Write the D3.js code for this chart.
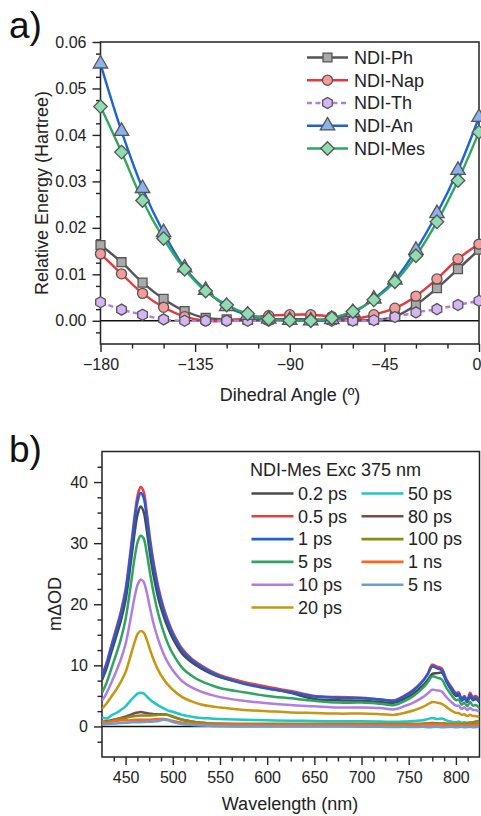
<!DOCTYPE html>
<html>
<head>
<meta charset="utf-8">
<script src="https://cdn.jsdelivr.net/npm/d3@7"></script>
<style>
  html, body { margin: 0; padding: 0; background: #fff; }
  svg { display: block; font-family: "Liberation Sans", Arial, Helvetica, sans-serif; }
</style>
</head>
<body>
<svg id="fig" width="481" height="816"></svg>
<script>
// ---------- Panel a: torsional scan ----------
const angles = [-180, -170, -160, -150, -140, -130, -120, -110, -100, -90, -80, -70, -60, -50, -40, -30, -20, -10, 0];
const ndiPh  = [0.0163, 0.0126, 0.0082, 0.0047, 0.0021, 0.0006, 0.0003, 0.0002, 0.0003, 0.0004, 0.0003, 0.0002, 0.0001, 0.0002, 0.0009, 0.0034, 0.0070, 0.0111, 0.0153];
const ndiNap = [0.0144, 0.0101, 0.0059, 0.0029, 0.0009, 0.0000, 0.0000, 0.0006, 0.0011, 0.0013, 0.0013, 0.0009, 0.0004, 0.0013, 0.0027, 0.0053, 0.0090, 0.0133, 0.0165];
const ndiTh  = [0.0040, 0.0024, 0.0013, 0.0003, 0.0000, 0.0000, 0.0000, 0.0000, 0.0000, 0.0000, 0.0000, 0.0000, 0.0000, 0.0001, 0.0008, 0.0018, 0.0025, 0.0034, 0.0043];
const ndiAn  = [0.0553, 0.0408, 0.0285, 0.0190, 0.0114, 0.0066, 0.0031, 0.0012, 0.0004, 0.0001, 0.0000, 0.0003, 0.0018, 0.0047, 0.0088, 0.0152, 0.0231, 0.0324, 0.0438];
const ndiMes = [0.0461, 0.0363, 0.0259, 0.0177, 0.0111, 0.0064, 0.0034, 0.0015, 0.0004, 0.0001, 0.0000, 0.0006, 0.0020, 0.0045, 0.0084, 0.0140, 0.0213, 0.0302, 0.0406];
const seriesNamesA = ["NDI-Ph", "NDI-Nap", "NDI-Th", "NDI-An", "NDI-Mes"];
const angleTicks = [-180, -135, -90, -45, 0];
const energyTicks = [0.00, 0.01, 0.02, 0.03, 0.04, 0.05, 0.06];

// ---------- Panel b: transient absorption of NDI-Mes ----------
const wavelengths = [425, 430, 435, 440, 445, 450, 455, 460, 463, 466, 469, 472, 476, 480, 485, 490, 495, 500, 510, 520, 530, 540, 550, 575, 600, 625, 650, 675, 700, 720, 735, 745, 755, 765, 770, 775, 780, 785, 790, 795, 800, 803, 806, 809, 812, 815, 818, 821, 825];
const t02ps  = [7.6, 9.6, 12.2, 14.7, 17.3, 20.7, 26.2, 32.2, 34.9, 36.0, 35.2, 32.6, 28.1, 24.4, 20.8, 18.2, 16.1, 14.4, 11.9, 10.5, 9.5, 8.7, 8.1, 7.1, 6.3, 5.5, 4.5, 4.3, 4.2, 4.0, 3.9, 4.5, 5.4, 6.7, 7.6, 8.6, 8.7, 8.8, 7.3, 6.0, 5.0, 5.1, 4.2, 4.6, 4.0, 4.9, 4.3, 4.5, 3.9];
const t05ps  = [8.4, 10.5, 13.3, 16.0, 18.8, 22.5, 28.5, 35.0, 38.0, 39.2, 38.5, 35.6, 30.6, 26.6, 22.6, 19.6, 17.3, 15.4, 12.7, 11.1, 10.0, 9.1, 8.4, 7.3, 6.5, 5.8, 5.0, 4.8, 4.7, 4.4, 4.3, 5.0, 6.0, 7.5, 8.6, 10.1, 9.8, 9.5, 7.7, 6.5, 5.5, 5.6, 4.5, 5.0, 4.3, 5.5, 4.8, 5.0, 4.4];
const t1ps   = [8.0, 10.2, 13.0, 15.6, 18.4, 22.0, 27.8, 34.2, 37.0, 38.2, 37.5, 34.7, 29.9, 26.0, 22.1, 19.2, 16.9, 15.1, 12.4, 10.9, 9.8, 8.9, 8.2, 7.0, 6.2, 5.6, 4.9, 4.7, 4.6, 4.4, 4.2, 4.9, 5.9, 7.4, 8.5, 9.8, 9.5, 9.2, 7.5, 6.3, 5.3, 5.4, 4.4, 4.8, 4.2, 5.2, 4.5, 4.7, 4.1];
const t5ps   = [5.5, 7.2, 9.5, 11.8, 14.3, 17.6, 22.6, 28.0, 30.3, 31.2, 30.8, 28.8, 25.0, 21.6, 18.2, 15.6, 13.5, 11.9, 9.6, 8.3, 7.4, 6.8, 6.3, 5.6, 5.0, 4.6, 4.2, 3.9, 3.9, 3.7, 3.5, 4.1, 5.0, 6.3, 7.2, 8.2, 8.0, 7.7, 6.3, 5.2, 4.3, 4.4, 3.6, 3.9, 3.3, 4.0, 3.4, 3.5, 3.0];
const t10ps  = [4.2, 5.5, 7.2, 9.0, 11.0, 13.5, 17.4, 21.5, 23.3, 24.0, 23.7, 22.2, 19.3, 16.6, 14.0, 12.0, 10.4, 9.2, 7.4, 6.4, 5.7, 5.2, 4.8, 4.2, 3.8, 3.5, 3.3, 3.1, 3.1, 3.0, 2.8, 3.3, 3.9, 4.8, 5.4, 6.0, 5.9, 5.7, 4.8, 4.0, 3.4, 3.4, 2.9, 3.1, 2.7, 3.0, 2.7, 2.7, 2.4];
const t20ps  = [2.9, 3.8, 4.9, 6.0, 7.3, 8.9, 11.4, 14.0, 15.2, 15.6, 15.4, 14.4, 12.5, 10.8, 9.1, 7.8, 6.8, 6.0, 4.8, 4.1, 3.6, 3.3, 3.1, 2.7, 2.5, 2.3, 2.2, 2.1, 2.1, 2.0, 1.9, 2.2, 2.6, 3.2, 3.6, 4.0, 3.9, 3.7, 3.2, 2.6, 2.2, 2.2, 1.9, 2.0, 1.7, 1.9, 1.7, 1.7, 1.5];
const t50ps  = [1.5, 1.3, 1.8, 2.2, 2.7, 3.3, 4.2, 5.0, 5.4, 5.5, 5.4, 5.0, 4.4, 3.9, 3.4, 3.0, 2.6, 2.4, 1.9, 1.6, 1.4, 1.3, 1.2, 1.1, 1.0, 0.95, 0.9, 0.85, 0.85, 0.8, 0.75, 0.8, 0.9, 1.0, 1.2, 1.4, 1.2, 1.3, 1.0, 0.8, 0.7, 0.8, 0.6, 0.7, 0.6, 0.7, 0.5, 0.6, 0.8];
const t80ps  = [0.7, 0.9, 1.0, 1.2, 1.4, 1.6, 1.9, 2.2, 2.3, 2.35, 2.3, 2.2, 2.1, 2.0, 2.0, 2.0, 1.9, 1.6, 1.1, 0.8, 0.6, 0.5, 0.45, 0.4, 0.4, 0.4, 0.4, 0.4, 0.4, 0.4, 0.35, 0.4, 0.4, 0.45, 0.5, 0.55, 0.5, 0.5, 0.45, 0.4, 0.35, 0.4, 0.3, 0.35, 0.3, 0.35, 0.3, 0.3, 0.4];
const t100ps = [0.6, 0.8, 0.9, 1.1, 1.3, 1.4, 1.6, 1.7, 1.75, 1.8, 1.8, 1.8, 1.8, 1.85, 1.9, 1.95, 1.85, 1.6, 1.1, 0.8, 0.6, 0.5, 0.45, 0.4, 0.4, 0.4, 0.4, 0.4, 0.4, 0.4, 0.4, 0.4, 0.4, 0.4, 0.45, 0.5, 0.45, 0.45, 0.4, 0.4, 0.4, 0.45, 0.4, 0.5, 0.5, 0.6, 0.7, 0.8, 0.9];
const t1ns   = [0.9, 0.6, 0.8, 0.9, 1.0, 1.0, 1.0, 1.1, 1.1, 1.1, 1.1, 1.1, 1.1, 1.15, 1.2, 1.2, 1.1, 0.9, 0.6, 0.45, 0.35, 0.3, 0.3, 0.3, 0.25, 0.25, 0.25, 0.25, 0.25, 0.25, 0.25, 0.25, 0.25, 0.3, 0.3, 0.3, 0.3, 0.3, 0.25, 0.25, 0.25, 0.3, 0.2, 0.25, 0.2, 0.3, 0.25, 0.3, 0.3];
const t5ns   = [0.3, 0.4, 0.45, 0.5, 0.55, 0.6, 0.65, 0.7, 0.7, 0.7, 0.72, 0.75, 0.78, 0.8, 0.9, 1.1, 1.0, 0.7, 0.4, 0.25, 0.15, 0.1, 0.05, 0.0, 0.0, 0.0, 0.0, 0.0, -0.05, -0.05, -0.1, -0.05, -0.1, -0.05, -0.15, -0.1, -0.05, -0.15, -0.1, -0.05, -0.15, -0.1, -0.05, -0.15, -0.1, -0.05, -0.15, -0.1, -0.05];
const delayLabels = ["0.2 ps", "0.5 ps", "1 ps", "5 ps", "10 ps", "20 ps", "50 ps", "80 ps", "100 ps", "1 ns", "5 ns"];
const wlTicks = [450, 500, 550, 600, 650, 700, 750, 800];
const odTicks = [0, 10, 20, 30, 40];

const svg = d3.select("#fig");
const FONT_TICK = 16, FONT_TITLE = 18, FONT_LEG = 18;

// Draw a framed axis box with major + minor ticks (outward)
function frameAxes(g, x, y, opt) {
  const [x0, x1] = x.range(), [y0, y1] = y.range();
  // minor ticks
  g.append("g").attr("transform", `translate(0,${y0})`)
    .call(d3.axisBottom(x).tickValues(opt.xMinor).tickSize(4.5).tickFormat(""))
    .call(a => a.select(".domain").remove());
  g.append("g").attr("transform", `translate(${x0},0)`)
    .call(d3.axisLeft(y).tickValues(opt.yMinor).tickSize(4.5).tickFormat(""))
    .call(a => a.select(".domain").remove());
  // major ticks with labels
  const xa = g.append("g").attr("transform", `translate(0,${y0})`)
    .call(d3.axisBottom(x).tickValues(opt.xMajor).tickSize(8).tickPadding(7).tickFormat(opt.xFmt))
    .call(a => a.select(".domain").remove())
    .call(a => a.selectAll("text").attr("font-size", FONT_TICK).attr("fill", "#222").attr("font-family", "Liberation Sans, Arial, sans-serif"));
  g.append("g").attr("transform", `translate(${x0},0)`)
    .call(d3.axisLeft(y).tickValues(opt.yMajor).tickSize(8).tickPadding(6).tickFormat(opt.yFmt))
    .call(a => a.select(".domain").remove())
    .call(a => a.selectAll("text").attr("font-size", FONT_TICK).attr("fill", "#222").attr("font-family", "Liberation Sans, Arial, sans-serif"));
  // keep a label sitting on the right frame edge inside the page
  if (opt.lastInside) {
    xa.selectAll(".tick").filter(d => d === x.domain()[1]).select("text")
      .attr("text-anchor", "end").attr("x", 481 - x1);
  }
  g.selectAll(".tick line").attr("stroke", "#222").attr("stroke-width", 1.4);
  // zero line
  g.append("line").attr("x1", x0).attr("x2", x1).attr("y1", y(0)).attr("y2", y(0))
    .attr("stroke", "#111").attr("stroke-width", 1.5);
  // frame
  g.append("rect").attr("x", x0).attr("y", y1).attr("width", x1 - x0).attr("height", y0 - y1)
    .attr("fill", "none").attr("stroke", "#222").attr("stroke-width", 1.5);
}

// ---------------- Panel a ----------------
{
  const g = svg.append("g");
  const x = d3.scaleLinear().domain([-180, 0]).range([100.5, 479]);
  const y = d3.scaleLinear().domain([-0.005, 0.06]).range([344, 42]);

  const hexagon = {
    draw(ctx, size) {
      const r = Math.sqrt(size / (1.5 * Math.sqrt(3)));
      for (let i = 0; i < 6; i++) {
        const a = Math.PI / 6 + i * Math.PI / 3;
        const px = r * Math.cos(a), py = r * Math.sin(a);
        if (i === 0) ctx.moveTo(px, py); else ctx.lineTo(px, py);
      }
      ctx.closePath();
    }
  };
  const diamond = {
    draw(ctx, size) {
      const r = Math.sqrt(size / 2);
      ctx.moveTo(0, -r); ctx.lineTo(r, 0); ctx.lineTo(0, r); ctx.lineTo(-r, 0); ctx.closePath();
    }
  };

  const series = [
    { name: seriesNamesA[0], values: ndiPh,  line: "#555555", fill: "#a9a9a9", sym: d3.symbolSquare,   size: 80,  dash: null },
    { name: seriesNamesA[1], values: ndiNap, line: "#e8363b", fill: "#f59c9a", sym: d3.symbolCircle,   size: 80,  dash: null },
    { name: seriesNamesA[2], values: ndiTh,  line: "#b07ee3", fill: "#d5b6f2", sym: hexagon,           size: 80,  dash: "5,3.5" },
    { name: seriesNamesA[3], values: ndiAn,  line: "#1f62d6", fill: "#8db1ea", sym: d3.symbolTriangle, size: 90,  dash: null },
    { name: seriesNamesA[4], values: ndiMes, line: "#2fa85e", fill: "#8fdcb0", sym: diamond,           size: 92,  dash: null }
  ];

  frameAxes(g, x, y, {
    xMajor: angleTicks, xMinor: [-165, -150, -120, -105, -75, -60, -30, -15],
    yMajor: energyTicks,
    yMinor: [-0.0025, 0.0025, 0.0075, 0.0125, 0.0175, 0.0225, 0.0275, 0.0325, 0.0375, 0.0425, 0.0475, 0.0525, 0.0575],
    xFmt: d3.format("d"), yFmt: d3.format(".2f"), lastInside: true
  });

  const plot = g.append("g");
  const line = d3.line().x((d, i) => x(angles[i])).y(d => y(d)).curve(d3.curveCatmullRom.alpha(0.5));
  series.forEach(s => {
    plot.append("path").datum(s.values).attr("d", line)
      .attr("fill", "none").attr("stroke", s.line).attr("stroke-width", 2.4)
      .attr("stroke-dasharray", s.dash);
  });
  series.forEach(s => {
    plot.append("g").selectAll("path").data(s.values).join("path")
      .attr("d", d3.symbol().type(s.sym).size(s.size))
      .attr("transform", (d, i) => `translate(${x(angles[i])},${y(d)})`)
      .attr("fill", s.fill).attr("stroke", "#555").attr("stroke-width", 1.3);
  });

  // legend
  const lg = g.append("g");
  series.forEach((s, i) => {
    const cy = 57.5 + i * 22.75;
    lg.append("line").attr("x1", 307).attr("x2", 348).attr("y1", cy).attr("y2", cy)
      .attr("stroke", s.line).attr("stroke-width", 2.4).attr("stroke-dasharray", s.dash);
    lg.append("path").attr("d", d3.symbol().type(s.sym).size(s.size)())
      .attr("transform", `translate(327.5,${cy})`)
      .attr("fill", s.fill).attr("stroke", "#555").attr("stroke-width", 1.3);
    lg.append("text").attr("x", 354).attr("y", cy + 6.3).attr("font-size", FONT_LEG).attr("fill", "#222").text(s.name);
  });

  // titles
  g.append("text").attr("x", 290).attr("y", 401).attr("text-anchor", "middle")
    .attr("font-size", FONT_TITLE).attr("fill", "#222").text("Dihedral Angle (º)");
  g.append("text").attr("transform", "translate(48,193) rotate(-90)").attr("text-anchor", "middle")
    .attr("font-size", FONT_TITLE).attr("fill", "#222").text("Relative Energy (Hartree)");
  g.append("text").attr("x", 9).attr("y", 38).attr("font-size", 37).attr("fill", "#111").text("a)");
}

// ---------------- Panel b ----------------
{
  const g = svg.append("g");
  const x = d3.scaleLinear().domain([425, 825]).range([102, 479.5]);
  const y = d3.scaleLinear().domain([-5, 45]).range([757, 451.5]);

  const traces = [t02ps, t05ps, t1ps, t5ps, t10ps, t20ps, t50ps, t80ps, t100ps, t1ns, t5ns];
  const colors = ["#4a4a4a", "#ec3a3f", "#1f5fd6", "#2ea462", "#b07de2", "#c8960f", "#1ec8c8", "#7b4b4b", "#8a8c12", "#ff6619", "#6a9fd6"];

  frameAxes(g, x, y, {
    xMajor: wlTicks,
    xMinor: [437.5, 462.5, 475, 487.5, 512.5, 525, 537.5, 562.5, 575, 587.5, 612.5, 625, 637.5, 662.5, 675, 687.5, 712.5, 725, 737.5, 762.5, 775, 787.5, 812.5],
    yMajor: odTicks,
    yMinor: [-2.5, 2.5, 5, 7.5, 12.5, 15, 17.5, 22.5, 25, 27.5, 32.5, 35, 37.5, 42.5],
    xFmt: d3.format("d"), yFmt: d3.format("d")
  });

  g.append("clipPath").attr("id", "clipB").append("rect")
    .attr("x", 102).attr("y", 451.5).attr("width", 377.5).attr("height", 305.5);
  const plot = g.append("g").attr("clip-path", "url(#clipB)");
  const line = d3.line().x((d, i) => x(wavelengths[i])).y(d => y(d)).curve(d3.curveCatmullRom.alpha(0.5));
  traces.forEach((t, k) => {
    plot.append("path").datum(t).attr("d", line)
      .attr("fill", "none").attr("stroke", colors[k]).attr("stroke-width", 2.5)
      .attr("stroke-linejoin", "round");
  });

  // legend
  const lg = g.append("g");
  lg.append("text").attr("x", 250).attr("y", 475.5).attr("font-size", FONT_LEG).attr("fill", "#222").text("NDI-Mes Exc 375 nm");
  delayLabels.forEach((lab, k) => {
    const col = k < 6 ? 0 : 1;
    const row = k < 6 ? k : k - 6;
    const cy = 493.5 + row * 22.8;
    const lx = col === 0 ? 251.5 : 361.5;
    lg.append("line").attr("x1", lx).attr("x2", lx + 42).attr("y1", cy).attr("y2", cy)
      .attr("stroke", colors[k]).attr("stroke-width", 2.6);
    lg.append("text").attr("x", lx + 46.5).attr("y", cy + 6.3).attr("font-size", FONT_LEG).attr("fill", "#222").text(lab);
  });

  g.append("text").attr("x", 290).attr("y", 810).attr("text-anchor", "middle")
    .attr("font-size", FONT_TITLE).attr("fill", "#222").text("Wavelength (nm)");
  g.append("text").attr("transform", "translate(61,604) rotate(-90)").attr("text-anchor", "middle")
    .attr("font-size", FONT_TITLE).attr("fill", "#222").text("mΔOD");
  g.append("text").attr("x", 9).attr("y", 462).attr("font-size", 37).attr("fill", "#111").text("b)");
}
</script>
</body>
</html>
